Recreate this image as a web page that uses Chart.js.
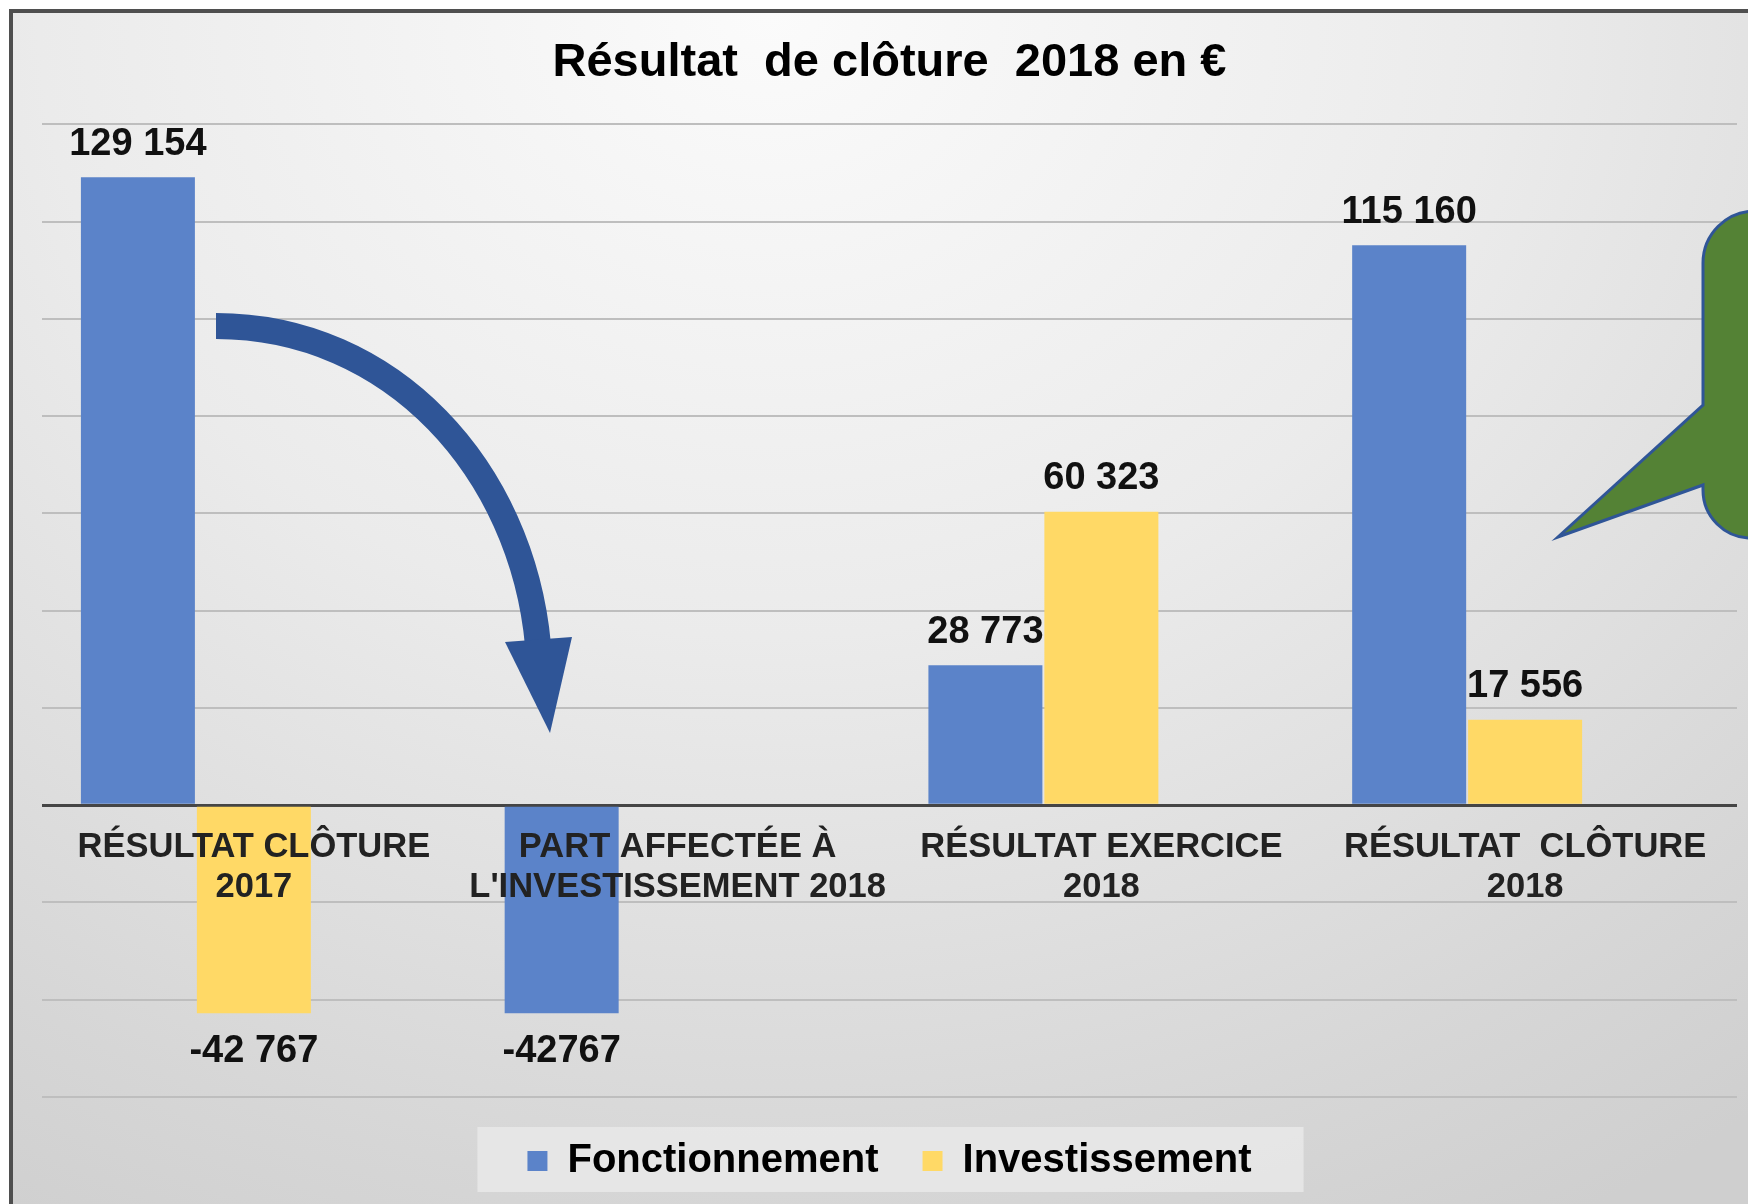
<!DOCTYPE html>
<html lang="fr">
<head>
<meta charset="utf-8">
<title>Résultat de clôture 2018</title>
<script src="https://cdn.jsdelivr.net/npm/chart.js@4/dist/chart.umd.min.js"></script>
<style>
    html, body { margin: 0; padding: 0; background: #ffffff; }
    body { width: 1748px; height: 1204px; position: relative; overflow: hidden; }
    #cadre {
        position: absolute; left: 9px; top: 9px; width: 1800px; height: 1260px;
        border-left: 4px solid #4f4f4f; border-top: 4px solid #4f4f4f;
        background: radial-gradient(ellipse 90% 110% at 42% 0%, #fbfbfb 0%, #ebebeb 45%, #d6d6d6 85%, #cfcfcf 100%);
    }
    #resultatChart { position: absolute; left: 0; top: 0; }
</style>
</head>
<body>
<div id="cadre"></div>
<canvas id="resultatChart" width="1748" height="1204"></canvas>
<script>
// Catégories (deux lignes par étiquette)
const categories = [
    ['RÉSULTAT CLÔTURE', '2017'],
    ['PART AFFECTÉE À', "L'INVESTISSEMENT 2018"],
    ['RÉSULTAT EXERCICE', '2018'],
    ['RÉSULTAT  CLÔTURE', '2018']
];

// Valeurs en euros
const fonctionnement = [129154, -42767, 28773, 115160];
const investissement = [-42767, null, 60323, 17556];
// série vide (emplacement réservé, comme dans le tableur d'origine)
const serieVide = [null, null, null, null];

// Textes affichés au-dessus / en dessous des barres
const etiquettesFonctionnement = ['129 154', '-42767', '28 773', '115 160'];
const etiquettesInvestissement = ['-42 767', '', '60 323', '17 556'];

// Graduations de l'axe des valeurs
const axeMin = -60000;
const axeMax = 140000;
const axePas = 20000;

const police = "'Liberation Sans', Arial, Helvetica, sans-serif";
Chart.defaults.font.family = police;

// Fond de la légende
const fondLegende = {
    id: 'fondLegende',
    beforeDraw(chart) {
        const boxes = chart.legend.legendHitBoxes;
        if (!boxes || !boxes.length) return;
        const first = boxes[0];
        const last = boxes[boxes.length - 1];
        const ctx = chart.ctx;
        ctx.save();
        ctx.fillStyle = 'rgba(236, 236, 236, 0.7)';
        ctx.fillRect(first.left - 50, first.top - 14, (last.left + last.width + 52) - (first.left - 50), 65);
        ctx.restore();
    }
};

// Valeurs au-dessus des barres
const etiquettesBarres = {
    id: 'etiquettesBarres',
    afterDatasetsDraw(chart) {
        const ctx = chart.ctx;
        const textes = [etiquettesFonctionnement, etiquettesInvestissement];
        ctx.save();
        ctx.font = 'bold 38px ' + police;
        ctx.fillStyle = '#111111';
        ctx.textAlign = 'center';
        ctx.textBaseline = 'middle';
        textes.forEach((liste, i) => {
            const meta = chart.getDatasetMeta(i);
            meta.data.forEach((bar, j) => {
                const valeur = chart.data.datasets[i].data[j];
                if (valeur === null || !liste[j]) return;
                const y = valeur >= 0 ? bar.y - 33 : bar.y + 38;
                ctx.fillText(liste[j], bar.x, y);
            });
        });
        ctx.restore();
    }
};

// Flèche courbe et bulle verte (décor ajouté sur le graphique)
const decor = {
    id: 'decor',
    afterDatasetsDraw(chart) {
        const ctx = chart.ctx;
        ctx.save();

        // flèche
        ctx.strokeStyle = '#2f5597';
        ctx.lineWidth = 26;
        ctx.lineCap = 'butt';
        ctx.beginPath();
        ctx.moveTo(216, 326);
        ctx.bezierCurveTo(392, 326, 522, 470, 538, 645);
        ctx.stroke();
        ctx.fillStyle = '#2f5597';
        ctx.beginPath();
        ctx.moveTo(505, 642);
        ctx.lineTo(572, 637);
        ctx.lineTo(550, 733);
        ctx.closePath();
        ctx.fill();

        // bulle
        ctx.fillStyle = '#548235';
        ctx.strokeStyle = '#2f5597';
        ctx.lineWidth = 3;
        ctx.beginPath();
        ctx.moveTo(1703, 263);
        ctx.arcTo(1703, 211, 1755, 211, 52);
        ctx.lineTo(1800, 211);
        ctx.lineTo(1800, 538);
        ctx.lineTo(1751, 538);
        ctx.arcTo(1703, 538, 1703, 490, 48);
        ctx.lineTo(1703, 485);
        ctx.lineTo(1558, 537);
        ctx.lineTo(1703, 405);
        ctx.closePath();
        ctx.fill();
        ctx.stroke();

        ctx.restore();
    }
};

const ctx = document.getElementById('resultatChart').getContext('2d');

window.resultatChart = new Chart(ctx, {
    type: 'bar',
    data: {
        labels: categories,
        datasets: [{
            label: 'Fonctionnement',
            data: fonctionnement,
            backgroundColor: '#5b83c9'
        }, {
            label: 'Investissement',
            data: investissement,
            backgroundColor: '#ffd966'
        }, {
            label: '',
            data: serieVide,
            backgroundColor: 'rgba(0,0,0,0)'
        }]
    },
    options: {
        responsive: false,
        animation: false,
        devicePixelRatio: 1,
        categoryPercentage: 0.821,
        barPercentage: 0.983,
        layout: {
            padding: { left: 42, right: 11, top: 0, bottom: 13 }
        },
        plugins: {
            title: {
                display: true,
                text: 'Résultat  de clôture  2018 en €',
                color: '#000000',
                font: { size: 47, weight: 'bold', lineHeight: 1.2 },
                padding: { top: 35, bottom: 33 }
            },
            legend: {
                position: 'bottom',
                labels: {
                    boxWidth: 20,
                    boxHeight: 20,
                    padding: 44,
                    color: '#000000',
                    font: { size: 40, weight: 'bold' },
                    filter: item => item.datasetIndex < 2
                }
            },
            tooltip: { enabled: false }
        },
        scales: {
            x: {
                position: { y: 0 },
                offset: true,
                grid: { display: false, drawTicks: false },
                border: { display: false },
                ticks: {
                    z: 1,
                    autoSkip: false,
                    maxRotation: 0,
                    minRotation: 0,
                    padding: 22,
                    color: '#222222',
                    font: { size: 34.5, weight: 'bold', lineHeight: 1.17 }
                },
                afterFit: scale => { scale.height = 0; }
            },
            y: {
                min: axeMin,
                max: axeMax,
                ticks: { display: false, stepSize: axePas },
                border: { display: false },
                grid: {
                    drawTicks: false,
                    color: c => c.tick && c.tick.value === 0 ? '#454545' : '#bebebe',
                    lineWidth: c => c.tick && c.tick.value === 0 ? 3 : 2
                },
                afterFit: scale => { scale.width = 0; }
            }
        }
    },
    plugins: [fondLegende, etiquettesBarres, decor]
});
</script>
</body>
</html>
